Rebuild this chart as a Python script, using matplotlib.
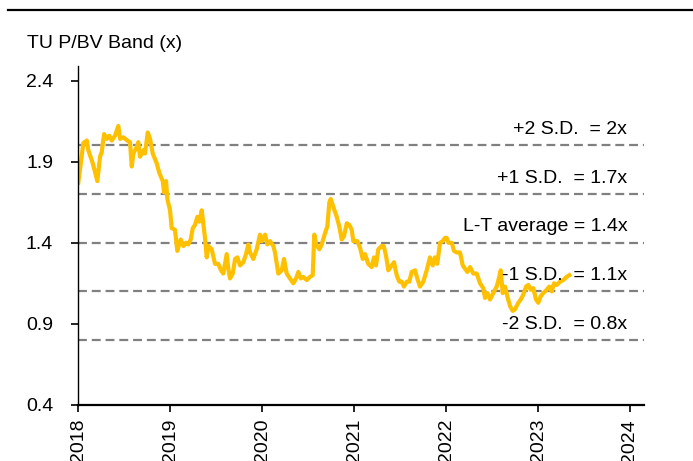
import numpy as np
import matplotlib.pyplot as plt
from matplotlib.lines import Line2D

plt.rcParams['font.family'] = ['Liberation Sans', 'DejaVu Sans']

# TU P/BV (x), decimal year vs multiple
years = [2018.003, 2018.058, 2018.095, 2018.112, 2018.160, 2018.210, 2018.239, 2018.258,
         2018.283, 2018.312, 2018.340, 2018.366, 2018.402, 2018.438, 2018.457, 2018.492,
         2018.536, 2018.565, 2018.584, 2018.601, 2018.638, 2018.655, 2018.674, 2018.710,
         2018.728, 2018.758, 2018.783, 2018.812, 2018.855, 2018.884, 2018.921, 2018.935,
         2018.957, 2018.971, 2019.000, 2019.018, 2019.054, 2019.079, 2019.116, 2019.145,
         2019.174, 2019.199, 2019.225, 2019.247, 2019.272, 2019.297, 2019.318, 2019.345,
         2019.362, 2019.380, 2019.399, 2019.416, 2019.453, 2019.489, 2019.525, 2019.554,
         2019.579, 2019.616, 2019.634, 2019.652, 2019.682, 2019.707, 2019.732, 2019.761,
         2019.797, 2019.826, 2019.851, 2019.870, 2019.905, 2019.942, 2019.978, 2019.997,
         2020.033, 2020.058, 2020.087, 2020.123, 2020.141, 2020.177, 2020.214, 2020.239,
         2020.268, 2020.304, 2020.340, 2020.370, 2020.395, 2020.421, 2020.449, 2020.486,
         2020.522, 2020.551, 2020.568, 2020.587, 2020.623, 2020.649, 2020.685, 2020.710,
         2020.732, 2020.747, 2020.775, 2020.812, 2020.840, 2020.866, 2020.891, 2020.921,
         2020.949, 2020.975, 2020.992, 2021.036, 2021.065, 2021.095, 2021.120, 2021.155,
         2021.192, 2021.217, 2021.239, 2021.264, 2021.301, 2021.323, 2021.348, 2021.373,
         2021.410, 2021.435, 2021.464, 2021.492, 2021.518, 2021.543, 2021.573, 2021.601,
         2021.627, 2021.663, 2021.688, 2021.717, 2021.753, 2021.790, 2021.826, 2021.855,
         2021.880, 2021.905, 2021.935, 2021.964, 2021.989, 2022.008, 2022.025, 2022.062,
         2022.087, 2022.116, 2022.152, 2022.182, 2022.207, 2022.232, 2022.261, 2022.297,
         2022.334, 2022.370, 2022.405, 2022.424, 2022.449, 2022.478, 2022.514, 2022.551,
         2022.579, 2022.595, 2022.616, 2022.641, 2022.666, 2022.696, 2022.725, 2022.750,
         2022.786, 2022.812, 2022.840, 2022.870, 2022.895, 2022.921, 2022.949, 2022.978,
         2023.003, 2023.029, 2023.058, 2023.095, 2023.123, 2023.149, 2023.174, 2023.203,
         2023.239, 2023.275, 2023.312, 2023.340]
pbv = [1.77, 2.015, 2.03, 1.97, 1.89, 1.78, 1.93, 1.96,
       2.07, 2.04, 2.06, 2.03, 2.06, 2.12, 2.04, 2.05,
       2.03, 2.02, 1.87, 1.95, 1.99, 2.02, 1.93, 1.97,
       1.95, 2.08, 2.04, 1.95, 1.89, 1.83, 1.78, 1.71,
       1.78, 1.67, 1.60, 1.49, 1.48, 1.35, 1.42, 1.38,
       1.40, 1.39, 1.42, 1.49, 1.51, 1.56, 1.53, 1.60,
       1.52, 1.43, 1.31, 1.38, 1.36, 1.27, 1.27, 1.23,
       1.21, 1.33, 1.24, 1.18, 1.21, 1.30, 1.31, 1.26,
       1.28, 1.33, 1.39, 1.34, 1.30, 1.36, 1.45, 1.41,
       1.45, 1.39, 1.41, 1.38, 1.34, 1.21, 1.23, 1.30,
       1.21, 1.18, 1.15, 1.18, 1.22, 1.18, 1.19, 1.17,
       1.19, 1.20, 1.45, 1.39, 1.36, 1.39, 1.46, 1.50,
       1.65, 1.67, 1.62, 1.56, 1.50, 1.42, 1.44, 1.52,
       1.51, 1.48, 1.41, 1.41, 1.37, 1.30, 1.33, 1.27,
       1.25, 1.31, 1.26, 1.36, 1.38, 1.38, 1.32, 1.23,
       1.26, 1.28, 1.20, 1.16, 1.16, 1.13, 1.16, 1.16,
       1.22, 1.23, 1.18, 1.13, 1.16, 1.23, 1.31, 1.26,
       1.31, 1.27, 1.40, 1.41, 1.43, 1.43, 1.40, 1.40,
       1.35, 1.34, 1.34, 1.26, 1.24, 1.22, 1.25, 1.21,
       1.21, 1.15, 1.12, 1.06, 1.09, 1.05, 1.09, 1.13,
       1.19, 1.23, 1.09, 1.13, 1.07, 1.01, 0.98, 0.99,
       1.03, 1.05, 1.08, 1.13, 1.14, 1.11, 1.12, 1.05,
       1.03, 1.07, 1.09, 1.11, 1.13, 1.10, 1.15, 1.14,
       1.16, 1.17, 1.19, 1.20]

band_levels = [2.0, 1.7, 1.4, 1.1, 0.8]
band_labels = ['+2 S.D.  = 2x', '+1 S.D.  = 1.7x', 'L-T average = 1.4x',
               '-1 S.D.  = 1.1x', '-2 S.D.  = 0.8x']
yticks = [0.4, 0.9, 1.4, 1.9, 2.4]
xticks = [2018, 2019, 2020, 2021, 2022, 2023, 2024]

fig = plt.figure(figsize=(6.93, 4.61), dpi=100)
ax = fig.add_axes([0.1126, 0.1215, 0.8164, 0.7355])

for lvl, lab in zip(band_levels, band_labels):
    ax.axhline(lvl, color='#808080', lw=1.6, ls=(0, (4, 2.2)), zorder=1)
    ax.text(2023.97, lvl + 0.045, lab, ha='right', va='bottom', fontsize=14, zorder=3)

ax.plot(years, pbv, color='#FFC000', lw=3.0, zorder=2)

ax.set_xlim(2018, 2024.15)
ax.set_ylim(0.4, 2.49)
ax.set_yticks(yticks)
ax.set_yticklabels(['%.1f' % v for v in yticks], fontsize=14)
ax.set_xticks(xticks)
ax.set_xticklabels([str(y) for y in xticks], fontsize=14, rotation=90)

for s in ['top', 'right']:
    ax.spines[s].set_visible(False)
ax.spines['left'].set_linewidth(1.0)
ax.spines['bottom'].set_linewidth(1.6)
ax.tick_params(axis='both', direction='out', length=5, width=1.2, colors='black')
ax.tick_params(axis='y', pad=13)
ax.tick_params(axis='x', pad=5)

fig.text(0.039, 0.905, 'TU P/BV Band (x)', fontsize=14, va='center')
fig.add_artist(Line2D([0.012, 1.0], [1 - 10 / 461, 1 - 10 / 461], color='black', lw=1.6))

fig.savefig('out.png', dpi=100)
